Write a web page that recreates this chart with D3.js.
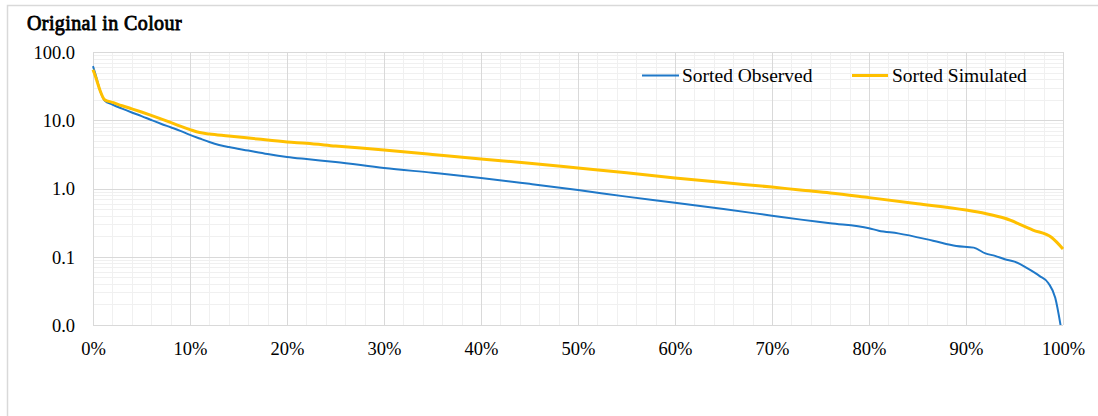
<!DOCTYPE html>
<html>
<head>
<meta charset="utf-8">
<script src="https://cdn.jsdelivr.net/npm/d3@7"></script>
<style>
  html, body { margin: 0; padding: 0; background: #fff; }
  svg { display: block; }
  text { font-family: "Liberation Serif", "Times New Roman", serif; fill: #000; }
</style>
</head>
<body>
<svg id="chart" width="1098" height="416"></svg>
<script>
// ---- data ----
const title = "Original in Colour";
const seriesNames = ["Sorted Observed", "Sorted Simulated"];
const obsPct = [0, 0.3, 0.7, 1.2, 2, 3, 4, 5, 6, 7, 8, 9, 10, 11, 12, 13, 14, 16, 18, 20, 22, 25, 30, 35, 40, 45, 50, 55, 60, 65, 70, 73, 76, 80, 81, 83, 86.6, 89, 90.8, 92, 93, 94, 95, 96.3, 97.6, 98.5, 99.2, 99.8];
const obsVal = [62, 45, 28, 19.5, 17, 14.8, 13, 11.5, 10.1, 8.9, 7.9, 7.0, 6.1, 5.4, 4.8, 4.35, 4.05, 3.6, 3.2, 2.9, 2.7, 2.45, 2.0, 1.7, 1.43, 1.17, 0.95, 0.76, 0.62, 0.5, 0.40, 0.35, 0.31, 0.262, 0.241, 0.22, 0.172, 0.144, 0.136, 0.112, 0.103, 0.092, 0.085, 0.068, 0.052, 0.041, 0.025, 0.009];
const simPct = [0, 0.3, 0.7, 1.2, 2, 3, 4, 5, 6, 7, 8, 9, 10, 11, 12, 14, 17, 20, 22, 25, 30, 35, 40, 45, 50, 55, 60, 65, 70, 72.9, 76, 80, 85, 90, 92, 94, 96.9, 98.8, 100];
const simVal = [55, 42, 28, 20, 18.3, 16.3, 14.7, 13.2, 11.8, 10.5, 9.3, 8.2, 7.3, 6.6, 6.3, 5.9, 5.3, 4.8, 4.6, 4.2, 3.66, 3.15, 2.7, 2.35, 2.0, 1.7, 1.43, 1.22, 1.05, 0.95, 0.86, 0.735, 0.6, 0.484, 0.43, 0.366, 0.246, 0.193, 0.13];
const yTicks = [0.01, 0.1, 1, 10, 100];
const yTickLabels = ["0.0", "0.1", "1.0", "10.0", "100.0"];
const xTicks = [0, 10, 20, 30, 40, 50, 60, 70, 80, 90, 100];
const colors = ["#1f78c8", "#ffc000"];

// ---- layout ----
const svg = d3.select("#chart");
const L = 93, R = 1063, T = 52, B = 325;
const x = d3.scaleLinear().domain([0, 100]).range([L, R]);
const y = d3.scaleLog().domain([0.01, 100]).range([B, T]);
const serif = "'Liberation Serif', 'Times New Roman', serif";

// outer frame
svg.append("rect").attr("x", 7.5).attr("y", 5.5).attr("width", 1200).attr("height", 500)
  .attr("fill", "#fff").attr("stroke", "#d9d9d9").attr("stroke-width", 1.5);

// title (bold simulated with a thin stroke on the serif face)
svg.append("text").attr("x", 27).attr("y", 30).attr("font-family", serif)
  .attr("font-size", 20).attr("letter-spacing", 0.4)
  .attr("stroke", "#000").attr("stroke-width", 0.8).attr("paint-order", "stroke")
  .text(title);

// minor gridlines
const g = svg.append("g");
const minorY = [];
[0.01, 0.1, 1, 10].forEach(d => { for (let k = 2; k <= 9; k++) minorY.push(d * k); });
g.selectAll("line.my").data(minorY).join("line")
  .attr("x1", L).attr("x2", R).attr("y1", d => Math.round(y(d)) + 0.5).attr("y2", d => Math.round(y(d)) + 0.5)
  .attr("stroke", "#f0f0f0").attr("stroke-width", 1);
const minorX = d3.range(2, 100, 2).filter(d => d % 10 !== 0);
g.selectAll("line.mx").data(minorX).join("line")
  .attr("y1", T).attr("y2", B).attr("x1", d => Math.round(x(d)) + 0.5).attr("x2", d => Math.round(x(d)) + 0.5)
  .attr("stroke", "#f0f0f0").attr("stroke-width", 1);
// major gridlines
g.selectAll("line.My").data(yTicks).join("line")
  .attr("x1", L).attr("x2", R).attr("y1", d => Math.round(y(d)) + 0.5).attr("y2", d => Math.round(y(d)) + 0.5)
  .attr("stroke", "#d9d9d9").attr("stroke-width", 1);
g.selectAll("line.Mx").data(xTicks).join("line")
  .attr("y1", T).attr("y2", B).attr("x1", d => Math.round(x(d)) + 0.5).attr("x2", d => Math.round(x(d)) + 0.5)
  .attr("stroke", "#d9d9d9").attr("stroke-width", 1);

// axes labels
const yAxis = d3.axisLeft(y).tickValues(yTicks).tickFormat((d, i) => yTickLabels[i]).tickSize(0).tickPadding(18);
const ya = svg.append("g").attr("transform", `translate(${L},0)`).call(yAxis);
ya.select(".domain").remove();
ya.selectAll("text").attr("font-size", 18.5).attr("font-family", serif).attr("fill", "#000").attr("dy", "0.35em");

const xAxis = d3.axisBottom(x).tickValues(xTicks).tickFormat(d => d + "%").tickSize(0).tickPadding(17);
const xa = svg.append("g").attr("transform", `translate(0,${B})`).call(xAxis);
xa.select(".domain").remove();
xa.selectAll("text").attr("font-size", 18.5).attr("font-family", serif).attr("fill", "#000");

// clip
svg.append("clipPath").attr("id", "clip").append("rect").attr("x", L - 2).attr("y", T - 2).attr("width", R - L + 4).attr("height", B - T + 2);

const line = d3.line().x(d => x(d[0])).y(d => y(d[1])).curve(d3.curveMonotoneX);
const obs = obsPct.map((p, i) => [p, obsVal[i]]);
const sim = simPct.map((p, i) => [p, simVal[i]]);
const lines = svg.append("g").attr("clip-path", "url(#clip)");
lines.append("path").datum(obs).attr("d", line).attr("fill", "none").attr("stroke", colors[0]).attr("stroke-width", 2);
lines.append("path").datum(sim).attr("d", line).attr("fill", "none").attr("stroke", colors[1]).attr("stroke-width", 3);

// legend
const leg = [{ x1: 642, x2: 679, tx: 682, name: seriesNames[0], c: colors[0], w: 2 },
             { x1: 852, x2: 888, tx: 892, name: seriesNames[1], c: colors[1], w: 3 }];
const lg = svg.append("g");
leg.forEach(d => {
  lg.append("line").attr("x1", d.x1).attr("x2", d.x2).attr("y1", 75.5).attr("y2", 75.5).attr("stroke", d.c).attr("stroke-width", d.w);
  lg.append("text").attr("x", d.tx).attr("y", 82).attr("font-family", serif).attr("font-size", 19.5).text(d.name);
});
</script>
</body>
</html>
